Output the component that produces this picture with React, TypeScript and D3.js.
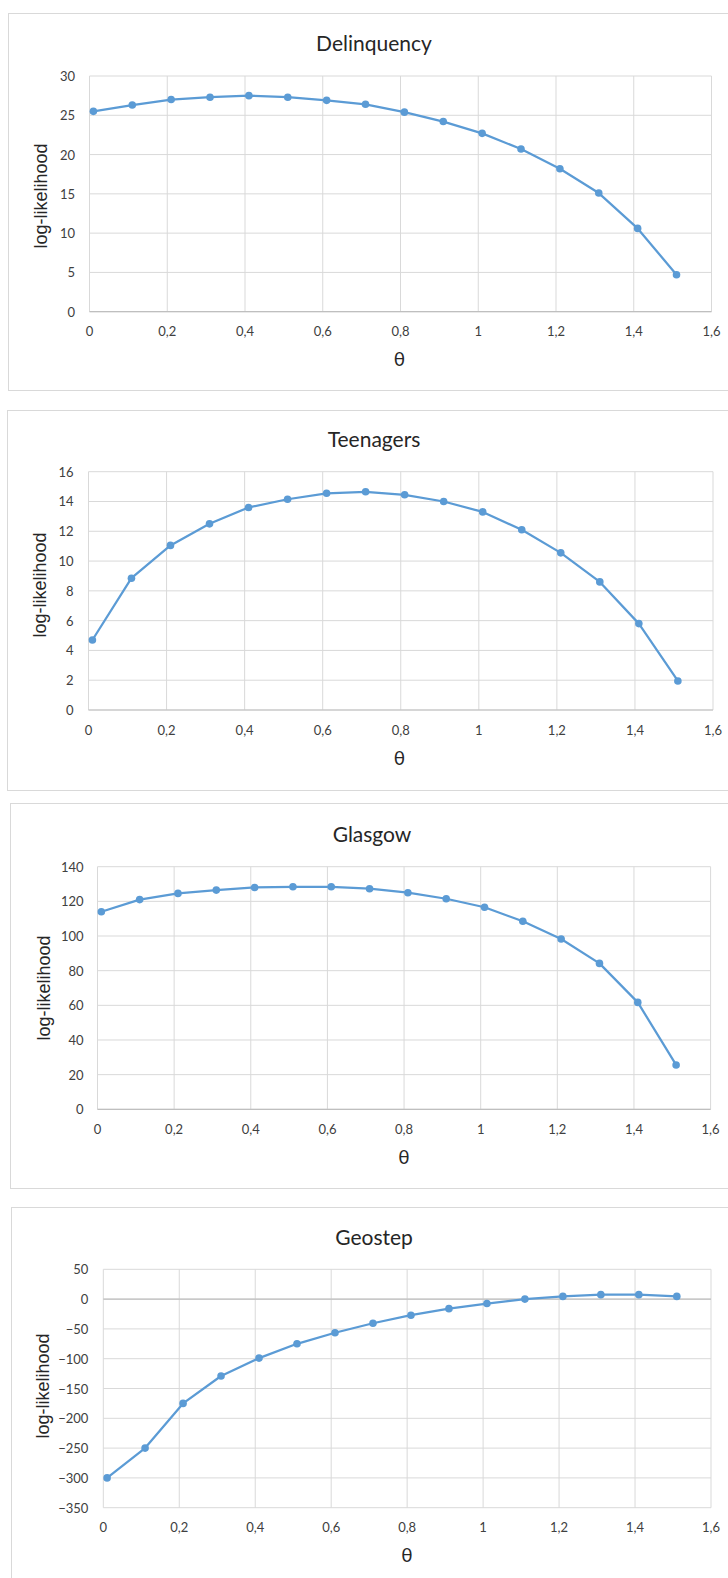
import * as d3 from 'd3';

// theta grid used for every curve
const theta = [0.01, 0.11, 0.21, 0.31, 0.41, 0.51, 0.61, 0.71, 0.81, 0.91, 1.01, 1.11, 1.21, 1.31, 1.41, 1.51];
const xTicks = [0, 0.2, 0.4, 0.6, 0.8, 1, 1.2, 1.4, 1.6];

const delinquency = [25.5, 26.3, 27.0, 27.3, 27.5, 27.3, 26.9, 26.4, 25.4, 24.2, 22.7, 20.7, 18.2, 15.1, 10.6, 4.7];
const teenagers = [4.7, 8.85, 11.05, 12.5, 13.6, 14.15, 14.55, 14.65, 14.45, 14.0, 13.3, 12.1, 10.55, 8.6, 5.8, 1.95];
const glasgow = [114, 121, 124.6, 126.5, 128, 128.4, 128.4, 127.3, 125, 121.5, 116.6, 108.5, 98.3, 84.2, 61.7, 25.6];
const geostep = [-300, -250, -175, -129, -99, -75, -56.5, -40.5, -27, -16, -7.5, 0, 4.5, 7.5, 7.5, 4.5];

const delinquencyTicks = [0, 5, 10, 15, 20, 25, 30];
const teenagersTicks = [0, 2, 4, 6, 8, 10, 12, 14, 16];
const glasgowTicks = [0, 20, 40, 60, 80, 100, 120, 140];
const geostepTicks = [-350, -300, -250, -200, -150, -100, -50, 0, 50];

const titles = ['Delinquency', 'Teenagers', 'Glasgow', 'Geostep'];

const fmt = d3.formatLocale({ decimal: ',', thousands: '.', grouping: [3], currency: ['', ''] }).format('~g');

const BLUE = '#5B9BD5';
const GRID = '#D9D9D9';
const FONT = 'Lato, "DejaVu Sans", sans-serif';

// frame and plot positions for each panel
const layouts = [
  { box: [8.5, 13.5, 760, 390.5], plot: [89.5, 711.5, 76, 311.7], titleX: 374, titleY: 42, ylx: 41, yly: 196, tickR: 75, xly: 331, thx: 399.5, thy: 358 },
  { box: [7.5, 410.5, 760, 790.5], plot: [88.5, 713, 471.7, 710], titleX: 374, titleY: 438, ylx: 39.5, yly: 585, tickR: 73.5, xly: 729.5, thx: 399.5, thy: 757 },
  { box: [10.5, 803.5, 760, 1188.5], plot: [97.5, 710.6, 866.7, 1109.3], titleX: 372, titleY: 833, ylx: 44, yly: 988, tickR: 83.5, xly: 1128.5, thx: 404, thy: 1156 },
  { box: [11.5, 1207.5, 760, 1620], plot: [103.3, 711, 1269.3, 1507.7], titleX: 374, titleY: 1236, ylx: 42.7, yly: 1386, tickR: 88.3, xly: 1527, thx: 407, thy: 1554.5 },
];

function Panel({ title, values, yTicks, layout }) {
  const [left, right, top, bottom] = layout.plot;
  const [bx, by, bx2, by2] = layout.box;
  const x = d3.scaleLinear([0, 1.6], [left, right]);
  const y = d3.scaleLinear([yTicks[0], yTicks[yTicks.length - 1]], [bottom, top]);
  const line = d3.line<number>().x((_, i) => x(theta[i])).y((d) => y(d));
  const axisY = yTicks[0] < 0 ? y(0) : bottom;

  return (
    <g>
      <rect x={bx} y={by} width={bx2 - bx} height={by2 - by} fill="#fff" stroke={GRID} strokeWidth={1} />
      <text x={layout.titleX} y={layout.titleY} textAnchor="middle" dominantBaseline="central" fontFamily={FONT} fontSize={21} fontWeight={400} fill="#262626">
        {title}
      </text>
      {yTicks.map((t) => (
        <line key={'h' + t} x1={left} x2={right} y1={y(t)} y2={y(t)} stroke={GRID} strokeWidth={1} />
      ))}
      {xTicks.map((t) => (
        <line key={'v' + t} x1={x(t)} x2={x(t)} y1={top} y2={bottom} stroke={GRID} strokeWidth={1} />
      ))}
      <line x1={left} x2={right} y1={axisY} y2={axisY} stroke="#BFBFBF" strokeWidth={1.2} />
      {yTicks.map((t) => (
        <text key={'yl' + t} x={layout.tickR} y={y(t)} textAnchor="end" dominantBaseline="central" fontFamily={FONT} fontSize={13} fill="#404040">
          {fmt(t)}
        </text>
      ))}
      {xTicks.map((t) => (
        <text key={'xl' + t} x={x(t)} y={layout.xly} textAnchor="middle" dominantBaseline="central" fontFamily={FONT} fontSize={13} fill="#404040">
          {fmt(t)}
        </text>
      ))}
      <text
        transform={`translate(${layout.ylx},${layout.yly}) rotate(-90)`}
        textAnchor="middle"
        dominantBaseline="central"
        fontFamily='"Liberation Sans", Arial, sans-serif'
        fontSize={18}
        fill="#262626"
      >
        log-likelihood
      </text>
      <text x={layout.thx} y={layout.thy} textAnchor="middle" dominantBaseline="central" fontFamily={FONT} fontSize={19} fill="#262626">
        θ
      </text>
      <path d={line(values) || ''} fill="none" stroke={BLUE} strokeWidth={2.25} strokeLinejoin="round" />
      {values.map((v, i) => (
        <circle key={i} cx={x(theta[i])} cy={y(v)} r={3.8} fill={BLUE} />
      ))}
    </g>
  );
}

export default function App() {
  const series = [delinquency, teenagers, glasgow, geostep];
  const ticks = [delinquencyTicks, teenagersTicks, glasgowTicks, geostepTicks];
  return (
    <svg width={728} height={1578} style={{ position: 'absolute', left: 0, top: 0, background: '#fff' }}>
      <rect width={728} height={1578} fill="#fff" />
      {titles.map((t, i) => (
        <Panel key={t} title={t} values={series[i]} yTicks={ticks[i]} layout={layouts[i]} />
      ))}
    </svg>
  );
}
